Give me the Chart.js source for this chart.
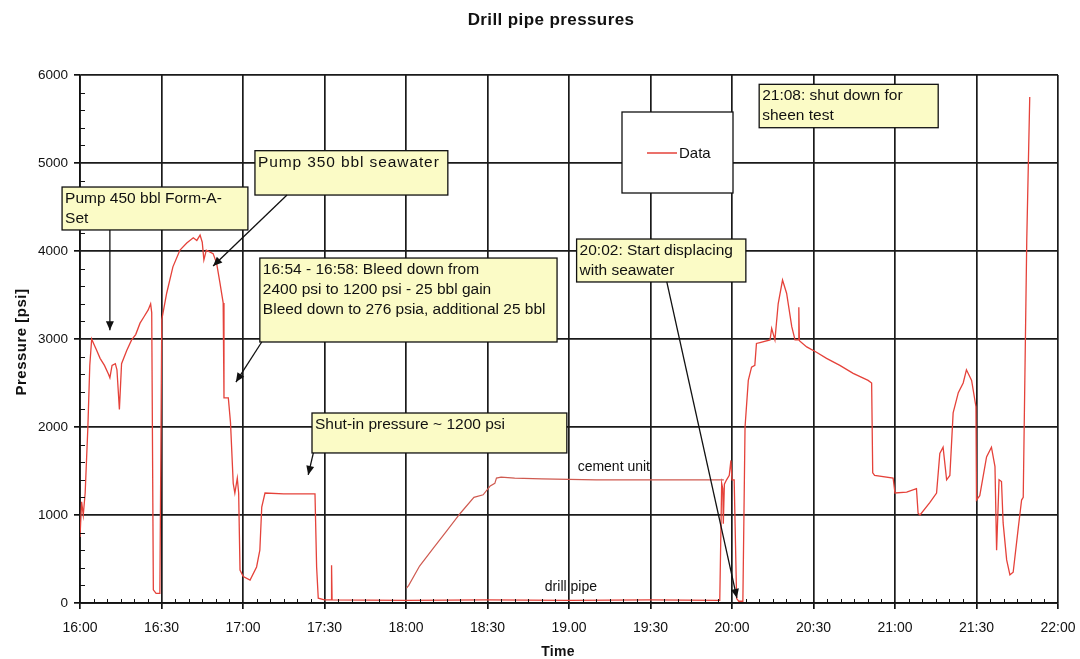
<!DOCTYPE html>
<html>
<head>
<meta charset="utf-8">
<script src="https://cdn.jsdelivr.net/npm/chart.js@4.4.1/dist/chart.umd.min.js"></script>
<style>
  html, body { margin: 0; padding: 0; background: #fff; }
  #wrap { width: 1080px; height: 659px; position: relative; }
</style>
</head>
<body>
<div id="wrap"><canvas id="c"></canvas></div>
<script>
// ---- data (minutes after 16:00, psi) ----
const xTickLabels = ["16:00","16:30","17:00","17:30","18:00","18:30","19.00","19:30","20:00","20:30","21:00","21:30","22:00"];
const yTickLabels = ["0","1000","2000","3000","4000","5000","6000"];

const dpMinutes = [0,0.6,1.2,1.9,2.9,3.6,4.3,5.0,6.0,7.4,9.0,10.5,11.0,11.8,13.0,13.6,14.5,15.3,17.2,19.0,20.5,22.1,23.5,25.1,26.0,26.4,27.0,28.0,29.4,30.1,31.9,34.2,36.8,39.3,41.7,43.0,44.2,45.0,45.6,46.5,49.0,50.3,51.5,52.7,53.0,54.6,55.4,56.4,57.0,57.9,58.4,58.9,60.1,62.6,65.0,66.2,66.9,68.1,75,86.5,87.1,87.7,90,92.4,92.6,92.8,120,150,180,210,235.5,236.2,236.6,236.8,237.2,238,239,239.6,240.0,240.8,241.7,242.5,244.0,244.8,246.0,247.2,248.4,249.0,250.3,254.0,254.6,255.8,257.0,258.6,260.1,262.0,263.2,264.5,264.6,264.8,267.5,271.1,274.8,279.7,284.6,290.1,291.4,291.8,292.5,299.3,300,304.3,307.9,308.5,309.2,312.8,315.3,316.5,317.7,319,320.2,321.4,323.3,325.1,326.3,328.2,329.8,330.0,331.2,333.7,335.5,336.8,337.4,338.3,339.2,339.8,341.1,342.3,343.5,345.4,346.6,347.2,348.5,349.6];
const dpPsi = [750,1150,1000,1250,2000,2700,3000,2950,2880,2780,2700,2600,2560,2700,2720,2650,2200,2720,2870,2990,3050,3180,3250,3330,3400,3300,150,110,110,3220,3520,3820,4010,4090,4150,4120,4180,4100,3900,4010,3970,3860,3640,3410,2330,2330,2050,1360,1250,1420,1250,375,300,260,410,600,1090,1250,1240,1240,410,55,35,35,430,35,30,35,30,35,30,1360,1300,900,1350,1400,1450,1620,1400,1400,50,20,20,2000,2530,2680,2700,2950,2960,2990,3120,2990,3400,3670,3520,3140,2990,2990,3360,2980,2910,2850,2780,2700,2610,2530,2500,1480,1450,1420,1250,1260,1300,1020,1000,1140,1250,1700,1770,1400,1450,2160,2390,2500,2650,2530,2230,1170,1220,1660,1770,1550,600,1400,1380,910,490,320,350,860,1170,1200,4120,5750];

const cuMinutes = [120.2,121,125,130,135,140,145,148.4,151,152.7,153.3,155,160,170,180,190,200,210,220,230,237];
const cuPsi = [170,200,420,620,820,1020,1200,1230,1330,1360,1420,1430,1420,1410,1405,1400,1400,1400,1400,1400,1400];

// ---- annotations (value space: minutes, psi) ----
const notes = [
  {x1:-6.6, x2:61.8, y1:4727, y2:4239, lines:["Pump 450 bbl Form-A-","Set"], from:[11,4239], to:[11,3100]},
  {x1:64.4, x2:135.4, y1:5140, y2:4636, lines:["Pump 350 bbl seawater"], spacing:0.9, from:[76.2,4636], to:[49,3830]},
  {x1:66.2, x2:175.6, y1:3920, y2:2966, lines:["16:54 - 16:58: Bleed down from","2400 psi to 1200 psi - 25 bbl gain","Bleed down to 276 psia, additional 25 bbl"], from:[66.9,2966], to:[57.4,2511]},
  {x1:85.4, x2:179.2, y1:2159, y2:1705, lines:["Shut-in pressure ~ 1200 psi"], from:[85.9,1705], to:[84,1455]},
  {x1:182.8, x2:245.1, y1:4136, y2:3648, lines:["20:02: Start displacing","with seawater"], from:[216,3648], to:[241.8,57]},
  {x1:250, x2:315.9, y1:5894, y2:5401, lines:["21:08: shut down for","sheen test"]}
];
const curveLabels = [
  {text:"cement unit", x:196.5, y:1545},
  {text:"drill pipe", x:180.7, y:182}
];

const FONT = "'Liberation Sans', Arial, sans-serif";
const dpData = dpMinutes.map((t,i)=>({x:t, y:dpPsi[i]}));
const cuData = cuMinutes.map((t,i)=>({x:t, y:cuPsi[i]}));

function arrow(ctx, x0, y0, x1, y1){
  ctx.beginPath(); ctx.moveTo(x0,y0); ctx.lineTo(x1,y1); ctx.stroke();
  const a = Math.atan2(y1-y0, x1-x0), L = 9, W = 4;
  ctx.beginPath();
  ctx.moveTo(x1,y1);
  ctx.lineTo(x1 - L*Math.cos(a) + W*Math.sin(a), y1 - L*Math.sin(a) - W*Math.cos(a));
  ctx.lineTo(x1 - L*Math.cos(a) - W*Math.sin(a), y1 - L*Math.sin(a) + W*Math.cos(a));
  ctx.closePath(); ctx.fill();
}

const overlay = {
  id: 'overlay',
  afterDraw(chart){
    const ctx = chart.ctx, xs = chart.scales.x, ys = chart.scales.y, ca = chart.chartArea;
    ctx.save();
    // minor ticks
    ctx.strokeStyle = '#111'; ctx.lineWidth = 1;
    ctx.beginPath();
    for (let t = 5; t < 360; t += 5){
      if (t % 30 === 0) continue;
      const px = Math.round(xs.getPixelForValue(t)) + 0.5;
      ctx.moveTo(px, ca.bottom); ctx.lineTo(px, ca.bottom - 4);
    }
    for (let v = 200; v < 6000; v += 200){
      if (v % 1000 === 0) continue;
      const py = Math.round(ys.getPixelForValue(v)) + 0.5;
      ctx.moveTo(ca.left, py); ctx.lineTo(ca.left + 5, py);
    }
    ctx.stroke();

    // curve labels
    ctx.fillStyle = '#111';
    ctx.font = '14px ' + FONT;
    ctx.textAlign = 'center'; ctx.textBaseline = 'middle';
    curveLabels.forEach(l => ctx.fillText(l.text, xs.getPixelForValue(l.x), ys.getPixelForValue(l.y)));

    // annotations
    notes.forEach(n => {
      const bx = xs.getPixelForValue(n.x1), bx2 = xs.getPixelForValue(n.x2);
      const by = ys.getPixelForValue(n.y1), by2 = ys.getPixelForValue(n.y2);
      ctx.fillStyle = '#fbfbc6';
      ctx.fillRect(bx, by, bx2-bx, by2-by);
      ctx.strokeStyle = '#111'; ctx.lineWidth = 1.3;
      ctx.strokeRect(bx, by, bx2-bx, by2-by);
      ctx.fillStyle = '#111';
      ctx.font = '15.5px ' + FONT;
      ctx.letterSpacing = (n.spacing || 0) + 'px';
      ctx.textAlign = 'left'; ctx.textBaseline = 'top';
      n.lines.forEach((s,i) => ctx.fillText(s, bx + 3, by + 4 + i*20));
      ctx.letterSpacing = '0px';
      if (n.from){
        ctx.strokeStyle = '#111'; ctx.fillStyle = '#111'; ctx.lineWidth = 1.3;
        arrow(ctx, xs.getPixelForValue(n.from[0]), ys.getPixelForValue(n.from[1]),
                   xs.getPixelForValue(n.to[0]), ys.getPixelForValue(n.to[1]));
      }
    });

    // legend
    const lx = 622, ly = 112, lw = 111, lh = 81;
    ctx.fillStyle = '#fff'; ctx.fillRect(lx, ly, lw, lh);
    ctx.strokeStyle = '#111'; ctx.lineWidth = 1.3; ctx.strokeRect(lx, ly, lw, lh);
    ctx.strokeStyle = chart.data.datasets[0].borderColor; ctx.lineWidth = 1.5;
    ctx.beginPath(); ctx.moveTo(lx+25, ly+41); ctx.lineTo(lx+55, ly+41); ctx.stroke();
    ctx.fillStyle = '#111'; ctx.font = '15px ' + FONT;
    ctx.textAlign = 'left'; ctx.textBaseline = 'middle';
    ctx.fillText(chart.data.datasets[0].label, lx+57, ly+42);

    // titles
    ctx.fillStyle = '#111';
    ctx.font = 'bold 17px ' + FONT;
    ctx.letterSpacing = '0.4px';
    ctx.textAlign = 'center'; ctx.textBaseline = 'middle';
    ctx.fillText('Drill pipe pressures', 551, 20);
    ctx.font = 'bold 14px ' + FONT;
    ctx.letterSpacing = '0.3px';
    ctx.fillText('Time', 558, 652);
    ctx.font = 'bold 15px ' + FONT;
    ctx.letterSpacing = '0.5px';
    ctx.translate(22, 342); ctx.rotate(-Math.PI/2);
    ctx.fillText('Pressure [psi]', 0, 0);
    ctx.restore();
  }
};

new Chart(document.getElementById('c'), {
  type: 'line',
  data: {
    datasets: [
      {label: 'Data', data: dpData, borderColor: '#e5423a', borderWidth: 1.3, pointRadius: 0, tension: 0, fill: false},
      {label: 'cement unit', data: cuData, borderColor: '#cf5a50', borderWidth: 1.2, pointRadius: 0, tension: 0, fill: false}
    ]
  },
  options: {
    responsive: true, maintainAspectRatio: false, animation: false,
    layout: {padding: {top: 75, right: 22, bottom: 0, left: 0}},
    plugins: {legend: {display: false}, title: {display: false}, tooltip: {enabled: false}},
    scales: {
      x: {
        type: 'linear', min: 0, max: 360,
        ticks: {stepSize: 30, autoSkip: false, maxRotation: 0, padding: 11, color: '#111',
                font: {family: FONT, size: 14},
                callback: v => xTickLabels[Math.round(v/30)]},
        grid: {color: '#1a1a1a', lineWidth: 1.7, tickLength: 6, tickColor: '#111'},
        border: {color: '#111', width: 1.7},
        afterFit: s => { s.height = 56; s.paddingLeft = 0; s.paddingRight = 0; }
      },
      y: {
        min: 0, max: 6000,
        ticks: {stepSize: 1000, padding: 6, color: '#111', font: {family: FONT, size: 13.5},
                callback: v => yTickLabels[Math.round(v/1000)]},
        grid: {color: '#1a1a1a', lineWidth: 1.7, tickLength: 6, tickColor: '#111'},
        border: {color: '#111', width: 1.7},
        afterFit: s => { s.width = 80; s.paddingTop = 0; s.paddingBottom = 0; }
      }
    }
  },
  plugins: [overlay]
});
</script>
</body>
</html>
